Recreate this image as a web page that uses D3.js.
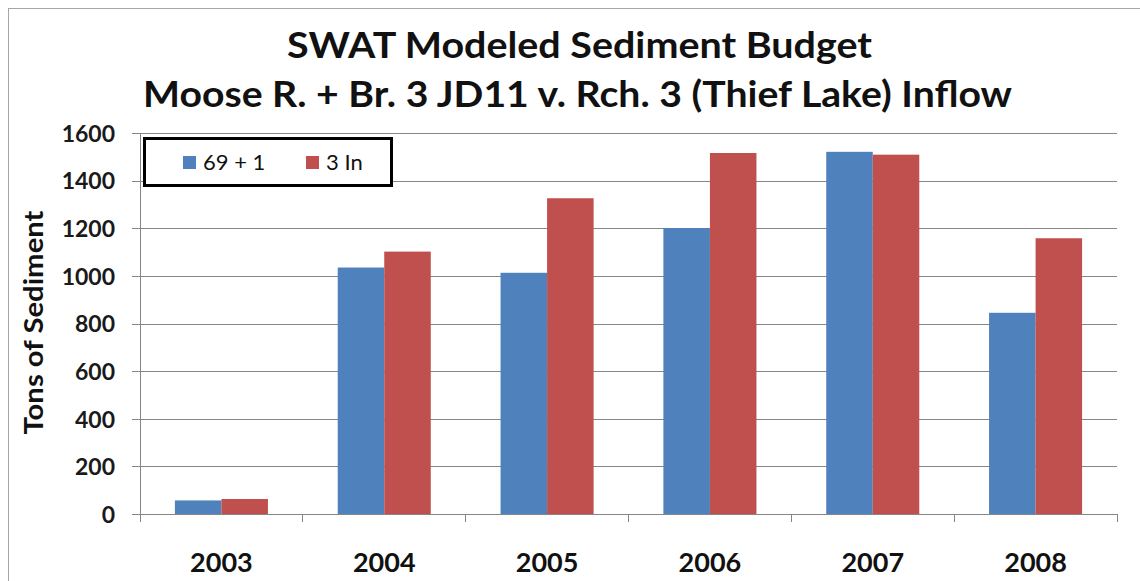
<!DOCTYPE html>
<html>
<head>
<meta charset="utf-8">
<script src="https://cdn.jsdelivr.net/npm/d3@7"></script>
<style>
  html, body { margin: 0; padding: 0; background: #fff; }
  svg { display: block; }
  text { font-family: Lato, "Open Sans", sans-serif; }
</style>
</head>
<body>
<svg id="chart" width="1140" height="581"></svg>
<script>
const years = ["2003", "2004", "2005", "2006", "2007", "2008"];
const seriesNames = ["69 + 1", "3 In"];
const series69 = [57, 1035, 1013, 1201, 1521, 845];
const series3In = [63, 1102, 1326, 1516, 1509, 1158];
const yTicks = [0, 200, 400, 600, 800, 1000, 1200, 1400, 1600];
const colors = ["#4F81BD", "#C0504D"];
const titleLines = ["SWAT Modeled Sediment Budget", "Moose R. + Br. 3 JD11 v. Rch. 3 (Thief Lake) Inflow"];
const yLabel = "Tons of Sediment";

(function () {
const svg = d3.select("#chart");

// outer chart border
svg.append("rect").attr("x", 8.5).attr("y", 8.5).attr("width", 1140).attr("height", 600)
  .attr("fill", "none").attr("stroke", "#a6a6a6").attr("stroke-width", 1);

const pL = 140, pR = 1117, pT = 133, pB = 514;

const y = d3.scaleLinear().domain([0, 1600]).range([pB, pT]);
const x0 = d3.scaleBand().domain(years).range([pL, pR]).padding(0);
const x1 = d3.scaleBand().domain(seriesNames).range([0, x0.bandwidth()]).paddingInner(0).paddingOuter(0.75);

// gridlines + y ticks
const yAxis = d3.axisLeft(y).tickValues(yTicks).tickSize(8).tickPadding(0).tickFormat(d3.format("d"));
const gy = svg.append("g").attr("transform", `translate(${pL},0)`).call(yAxis);
gy.select(".domain").remove();
gy.selectAll(".tick line").attr("x2", pR - pL).attr("x1", -8).attr("stroke", "#868686").attr("shape-rendering", "crispEdges");
gy.selectAll(".tick text").attr("x", -25).attr("dy", "0.36em")
  .attr("font-size", 23).attr("font-weight", 700).attr("fill", "#1a1a1a").attr("text-anchor", "end");

// y axis line
svg.append("line").attr("x1", pL).attr("x2", pL).attr("y1", pT).attr("y2", pB)
  .attr("stroke", "#868686").attr("shape-rendering", "crispEdges");

// bars
const data = years.map((yr, i) => ({ year: yr, vals: [series69[i], series3In[i]] }));
const groups = svg.append("g").selectAll("g").data(data).join("g")
  .attr("transform", d => `translate(${x0(d.year)},0)`);
groups.selectAll("rect").data(d => d.vals.map((v, j) => ({ name: seriesNames[j], v, j })))
  .join("rect")
  .attr("x", d => x1(d.name))
  .attr("width", x1.bandwidth())
  .attr("y", d => y(d.v))
  .attr("height", d => y(0) - y(d.v))
  .attr("fill", d => colors[d.j]);

// x axis
const xAxisG = svg.append("g").attr("transform", `translate(0,${pB})`);
xAxisG.append("line").attr("x1", pL).attr("x2", pR).attr("y1", 0).attr("y2", 0)
  .attr("stroke", "#868686").attr("shape-rendering", "crispEdges");
const boundaries = years.map(yr => x0(yr)).concat([pR]);
xAxisG.selectAll("line.tk").data(boundaries).join("line").attr("class", "tk")
  .attr("x1", d => d).attr("x2", d => d).attr("y1", 0).attr("y2", 8)
  .attr("stroke", "#868686").attr("shape-rendering", "crispEdges");
xAxisG.selectAll("text").data(years).join("text")
  .attr("x", d => x0(d) + x0.bandwidth() / 2)
  .attr("y", 58)
  .attr("text-anchor", "middle")
  .attr("font-size", 27).attr("font-weight", 700).attr("fill", "#111")
  .text(d => d);

// y label
svg.append("text")
  .attr("transform", `translate(43,${(pT + pB) / 2 - 1}) rotate(-90)`)
  .attr("text-anchor", "middle")
  .attr("font-size", 26).attr("font-weight", 700).attr("fill", "#111")
  .attr("textLength", 224).attr("lengthAdjust", "spacingAndGlyphs")
  .text(yLabel);

// title
const titleLen = [585, 869];
const titleBase = [58, 107];
svg.selectAll("text.title").data(titleLines).join("text").attr("class", "title")
  .attr("x", (d, i) => i === 0 ? 579.5 : 577.5).attr("y", (d, i) => titleBase[i])
  .attr("text-anchor", "middle")
  .attr("font-size", 36).attr("font-weight", 700).attr("fill", "#111")
  .attr("textLength", (d, i) => titleLen[i]).attr("lengthAdjust", "spacingAndGlyphs")
  .text(d => d);

// legend
const lg = svg.append("g");
lg.append("rect").attr("x", 144.5).attr("y", 138.5).attr("width", 247).attr("height", 47)
  .attr("fill", "#fff").attr("stroke", "#000").attr("stroke-width", 3);
const legendX = [183, 306];
seriesNames.forEach((name, i) => {
  lg.append("rect").attr("x", legendX[i]).attr("y", 156).attr("width", 13).attr("height", 13).attr("fill", colors[i]);
  lg.append("text").attr("x", legendX[i] + 20).attr("y", 170)
    .attr("font-size", 22).attr("font-weight", 400).attr("fill", "#111").text(name);
});
})();
</script>
</body>
</html>
